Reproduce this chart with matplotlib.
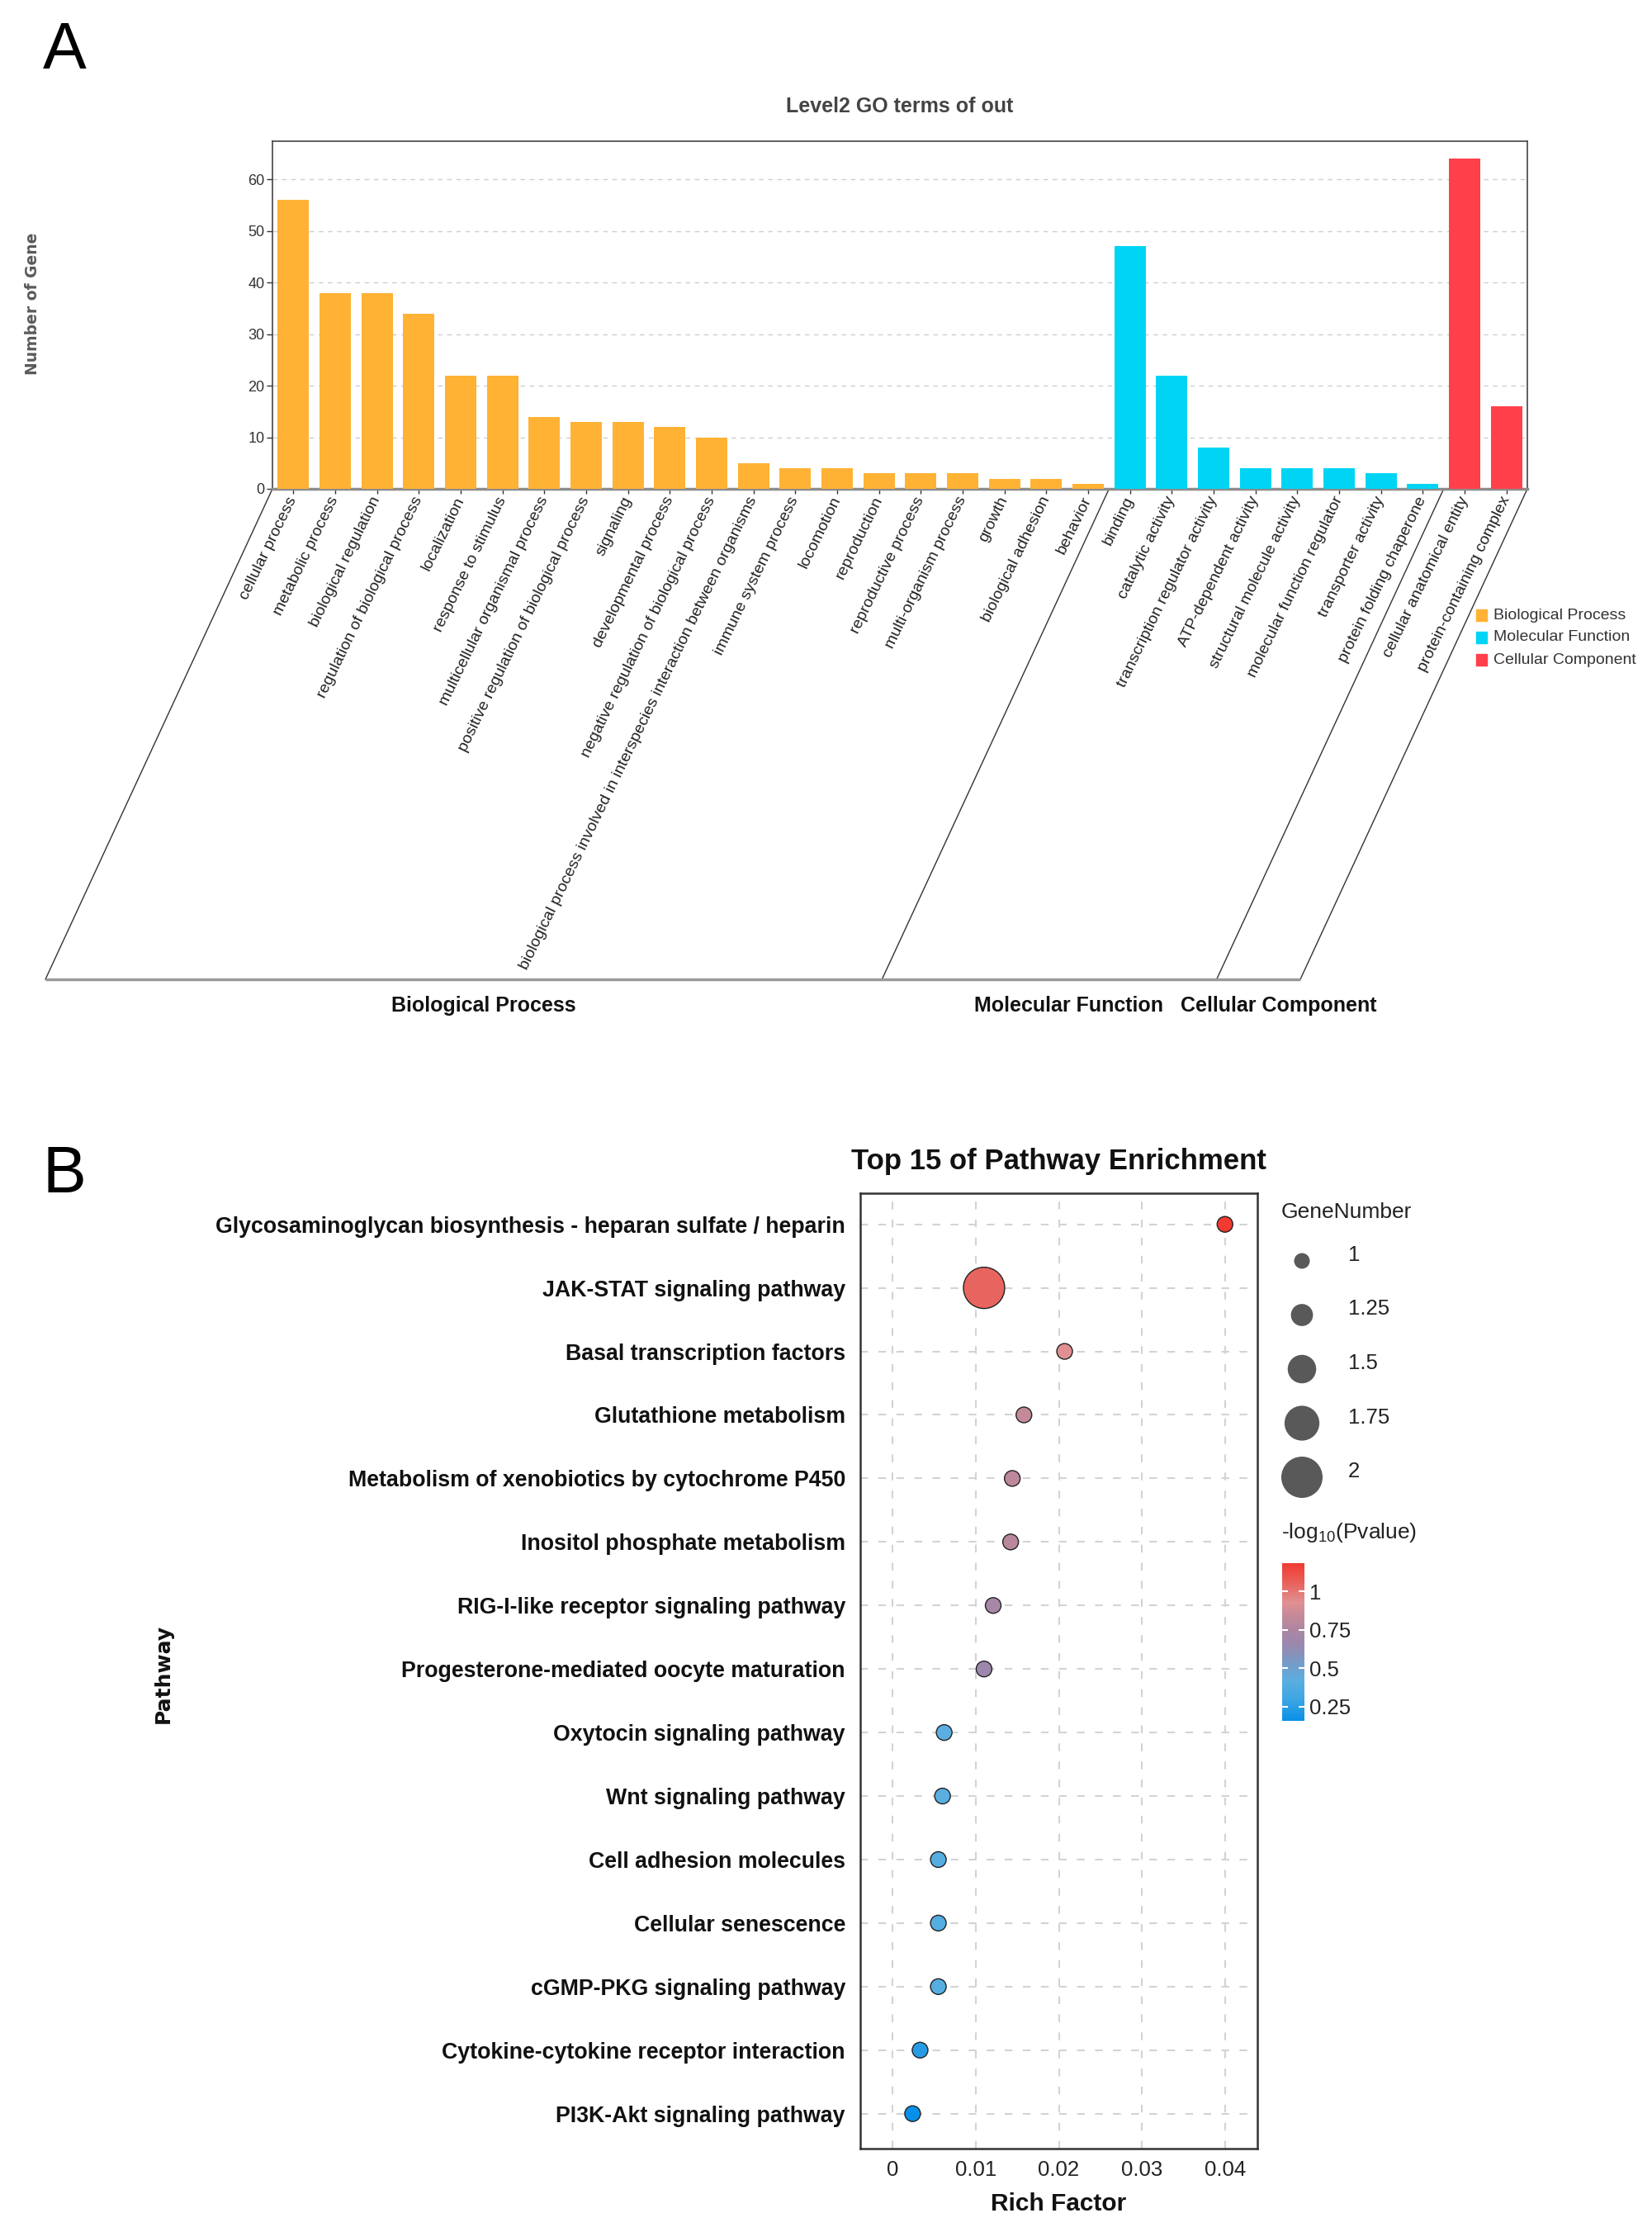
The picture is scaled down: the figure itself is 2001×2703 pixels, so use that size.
import numpy as np
import matplotlib
matplotlib.use('Agg')
import matplotlib.pyplot as plt
from matplotlib.colors import LinearSegmentedColormap, Normalize
from matplotlib.patches import Rectangle
import matplotlib.colorbar as mcolorbar

plt.rcParams['font.family'] = ['Liberation Sans', 'DejaVu Sans']

# === DATA: Level2 GO terms ===
bp_terms = ['cellular process', 'metabolic process', 'biological regulation',
            'regulation of biological process', 'localization', 'response to stimulus',
            'multicellular organismal process', 'positive regulation of biological process',
            'signaling', 'developmental process', 'negative regulation of biological process',
            'biological process involved in interspecies interaction between organisms',
            'immune system process', 'locomotion', 'reproduction', 'reproductive process',
            'multi-organism process', 'growth', 'biological adhesion', 'behavior']
bp_counts = [56, 38, 38, 34, 22, 22, 14, 13, 13, 12, 10, 5, 4, 4, 3, 3, 3, 2, 2, 1]

mf_terms = ['binding', 'catalytic activity', 'transcription regulator activity',
            'ATP-dependent activity', 'structural molecule activity',
            'molecular function regulator', 'transporter activity', 'protein folding chaperone']
mf_counts = [47, 22, 8, 4, 4, 4, 3, 1]

cc_terms = ['cellular anatomical entity', 'protein-containing complex']
cc_counts = [64, 16]

group_names = ['Biological Process', 'Molecular Function', 'Cellular Component']
group_colors = ['#FFB234', '#00D4F4', '#FF404B']

# === DATA: KEGG pathway enrichment ===
pathways = ['Glycosaminoglycan biosynthesis - heparan sulfate / heparin',
            'JAK-STAT signaling pathway', 'Basal transcription factors',
            'Glutathione metabolism', 'Metabolism of xenobiotics by cytochrome P450',
            'Inositol phosphate metabolism', 'RIG-I-like receptor signaling pathway',
            'Progesterone-mediated oocyte maturation', 'Oxytocin signaling pathway',
            'Wnt signaling pathway', 'Cell adhesion molecules', 'Cellular senescence',
            'cGMP-PKG signaling pathway', 'Cytokine-cytokine receptor interaction',
            'PI3K-Akt signaling pathway']
rich_factor = [0.0400, 0.0110, 0.0207, 0.0158, 0.0144, 0.0142, 0.0121, 0.0110,
               0.0062, 0.0060, 0.0055, 0.0055, 0.0055, 0.0033, 0.0024]
gene_number = [1, 2, 1, 1, 1, 1, 1, 1, 1, 1, 1, 1, 1, 1, 1]
neg_log_p = [1.183, 1.05, 0.93, 0.84, 0.81, 0.80, 0.72, 0.66,
             0.42, 0.42, 0.40, 0.40, 0.40, 0.24, 0.156]
size_legend = [1, 1.25, 1.5, 1.75, 2]
cbar_ticks = [0.25, 0.5, 0.75, 1]

# colour scale for -log10(Pvalue)
c_nodes = [0.156, 0.30, 0.42, 0.55, 0.65, 0.75, 0.85, 0.93, 1.05, 1.183]
c_cols = ['#0890E8', '#3FA6E2', '#5AAEE0', '#7C98C4', '#9A88AE',
          '#AC86A2', '#C88A98', '#E09092', '#E8645E', '#F03A32']

# === FIGURE ===
W, H = 2001, 2703
fig = plt.figure(figsize=(W / 100, H / 100), dpi=100)


def rect(l, t, r, b):
    return [l / W, 1 - b / H, (r - l) / W, (b - t) / H]


over = fig.add_axes([0, 0, 1, 1])
over.set_xlim(0, W)
over.set_ylim(H, 0)
over.axis('off')

# ---------------- Panel A ----------------
ax1 = fig.add_axes(rect(330, 171, 1850, 592))
terms = bp_terms + mf_terms + cc_terms
counts = bp_counts + mf_counts + cc_counts
sizes = [len(bp_terms), len(mf_terms), len(cc_terms)]
colors = []
for n, c in zip(sizes, group_colors):
    colors += [c] * n
xpos = np.arange(len(terms))
ax1.bar(xpos, counts, width=0.75, color=colors, zorder=3)
ax1.set_xlim(-0.5, len(terms) - 0.5)
ax1.set_ylim(0, 67.4)
ax1.set_yticks(range(0, 61, 10))
ax1.yaxis.grid(True, color='#cfcfcf', linestyle=(0, (4, 4)), linewidth=1.0)
ax1.set_axisbelow(True)
ax1.set_xticks(xpos)
ax1.set_xticklabels(terms, rotation=64, ha='right', va='center',
                    rotation_mode='anchor', fontsize=14, color='#222222')
ax1.tick_params(axis='x', length=4.5, width=1, color='#333333', pad=3)
ax1.tick_params(axis='y', length=5, width=1, color='#333333', pad=2,
                labelsize=13, labelcolor='#333333')
for s in ['top', 'right', 'left']:
    ax1.spines[s].set_color('#444444')
    ax1.spines[s].set_linewidth(1.2)
ax1.spines['bottom'].set_color('#8c8c8c')
ax1.spines['bottom'].set_linewidth(2.5)

over.text(1090, 136, 'Level2 GO terms of out', ha='center', va='baseline',
          fontsize=18, fontweight='bold', color='#444444')
over.text(40, 368, 'Number of Gene', rotation=90, ha='center', va='center',
          fontsize=13.5, fontweight='bold', color='#5a5a5a', family='DejaVu Sans')
over.text(52, 83, 'A', fontsize=57, ha='left', va='baseline')

# skewed group frame under the axis
shift, base_y = 275, 1186
bounds = np.concatenate([[-0.5], np.cumsum(sizes) - 0.5])
inv = over.transData.inverted()
bottoms = []
for xb in bounds:
    tx, ty = inv.transform(ax1.transData.transform((xb, 0)))
    over.plot([tx, tx - shift], [ty, base_y], color='#333333', lw=1.0)
    bottoms.append(tx - shift)
over.plot([bottoms[0], bottoms[-1]], [base_y, base_y], color='#999999', lw=2.5,
          solid_capstyle='butt')
for i, name in enumerate(group_names):
    over.text((bottoms[i] + bottoms[i + 1]) / 2 + 24, 1225, name, ha='center',
              va='baseline', fontsize=18, fontweight='bold', color='#111111')

# legend of panel A
for i, (name, c) in enumerate(zip(group_names, group_colors)):
    yc = 745 + i * 27
    over.add_patch(Rectangle((1788, yc - 7), 13, 14, color=c))
    over.text(1809, yc, name, va='center', ha='left', fontsize=14, color='#333333')

# ---------------- Panel B ----------------
ax2 = fig.add_axes(rect(1042, 1445, 1523, 2602))
cmap = LinearSegmentedColormap.from_list(
    'pv', [((v - c_nodes[0]) / (c_nodes[-1] - c_nodes[0]), c) for v, c in zip(c_nodes, c_cols)])
norm = Normalize(vmin=c_nodes[0], vmax=c_nodes[-1])


def gene_size(g):
    d_px = 19 + 31 * (g - 1)
    return (d_px * 0.72) ** 2


ypos = np.arange(len(pathways))
ax2.scatter(rich_factor, ypos, s=[gene_size(g) for g in gene_number], c=neg_log_p,
            cmap=cmap, norm=norm, edgecolors='#222222', linewidths=1.0, zorder=3)
ax2.set_xlim(-0.0039, 0.0439)
ax2.set_ylim(len(pathways) - 0.45, -0.49)
ax2.set_xticks([0, 0.01, 0.02, 0.03, 0.04])
ax2.set_xticklabels(['0', '0.01', '0.02', '0.03', '0.04'])
ax2.set_yticks(ypos)
ax2.set_yticklabels(pathways, fontweight='bold')
ax2.grid(True, color='#d3d3d3', linestyle=(0, (4.5, 6)), linewidth=1.5)
ax2.set_axisbelow(True)
ax2.tick_params(axis='x', length=0, pad=10, labelsize=18.5, labelcolor='#222222')
ax2.tick_params(axis='y', length=0, pad=13, labelsize=19.3, labelcolor='#111111')
for s in ax2.spines.values():
    s.set_color('#333333')
    s.set_linewidth(1.8)

over.text(1282, 1416, 'Top 15 of Pathway Enrichment', ha='center', va='baseline',
          fontsize=25, fontweight='bold', color='#111111')
over.text(1282, 2677, 'Rich Factor', ha='center', va='baseline',
          fontsize=21.5, fontweight='bold', color='#111111')
over.text(198, 2027, 'Pathway', rotation=90, ha='center', va='center',
          fontsize=18, fontweight='bold', color='#111111', family='DejaVu Sans')
over.text(52, 1444, 'B', fontsize=57, ha='left', va='baseline')

# size legend
over.text(1552, 1475, 'GeneNumber', ha='left', va='baseline', fontsize=19, color='#222222')
for i, g in enumerate(size_legend):
    yc = 1527 + i * 65.5
    over.scatter([1577], [yc], s=gene_size(g), color='#595959', edgecolors='none')
    over.text(1633, yc, f'{g:g}', ha='left', va='baseline', fontsize=18.5, color='#222222')

# colour legend
over.text(1552, 1863, r'-log$_{\mathregular{10}}$(Pvalue)', ha='left', va='baseline',
          fontsize=19, color='#222222')
cax = fig.add_axes(rect(1553, 1893, 1580, 2084))
cb = mcolorbar.ColorbarBase(cax, cmap=cmap, norm=norm, ticks=cbar_ticks)
cb.set_ticklabels([f'{t:g}' for t in cbar_ticks])
cb.outline.set_visible(False)
cax.tick_params(axis='y', left=True, right=True, direction='in', length=5, width=1.5,
                color='white', labelsize=18.5, labelcolor='#222222', pad=4)

fig.savefig('out.png', dpi=100, facecolor='white')
